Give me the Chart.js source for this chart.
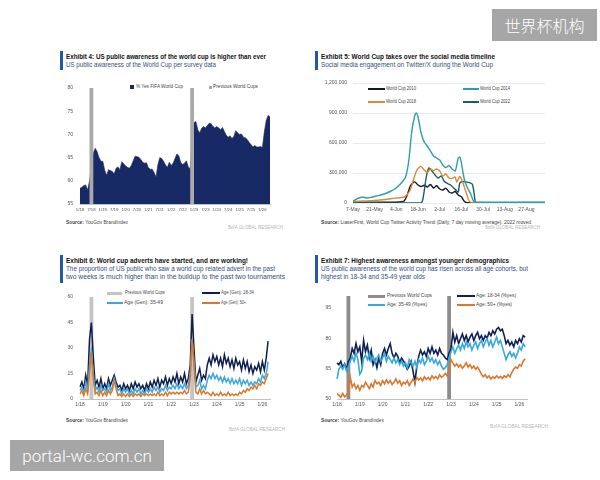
<!DOCTYPE html>
<html>
<head>
<meta charset="utf-8">
<script src="https://cdn.jsdelivr.net/npm/chart.js@4"></script>
<style>
body { margin: 0; width: 600px; height: 480px; background: #fff; position: relative; overflow: hidden; font-family: "Liberation Sans", Arial, sans-serif; }
.abs { position: absolute; white-space: nowrap; transform-origin: left center; line-height: 1; }
.bar { position: absolute; width: 2.5px; background: #2357a8; }
.ttl { font-weight: bold; font-size: 7px; color: #111; }
.sub { font-size: 6.6px; color: #34507a; }
.src { font-size: 5px; color: #444; }
.bofa { font-size: 4.6px; color: #b5b5b5; }
.lg { font-size: 4.8px; color: #444; }
.ln { position: absolute; height: 1.6px; }
.sq { position: absolute; }
canvas { position: absolute; }
.wm { position: absolute; background: #a6a6a6; color: #fff; display: flex; align-items: center; justify-content: center; }
</style>
</head>
<body>

<!-- Exhibit 4 -->
<div class="bar" style="left:60px;top:51px;height:19px"></div>
<div class="abs ttl" style="left:66px;top:53px" data-w="200">Exhibit 4: US public awareness of the world cup is higher than ever</div>
<div class="abs sub" style="left:66px;top:62px" data-w="150">US public awareness of the World Cup per survey data</div>
<div class="sq" style="left:130px;top:85px;width:4px;height:4px;background:#172a66"></div>
<div class="abs lg" style="left:136px;top:84.5px" data-w="47">% Yes FIFA World Cup</div>
<div class="sq" style="left:209px;top:86px;width:2.5px;height:2.5px;background:#a8a8a8"></div>
<div class="abs lg" style="left:213px;top:84.5px" data-w="45">Previous World Cups</div>
<canvas id="c1" width="215" height="137" style="left:58px;top:78px"></canvas>
<div class="abs src" style="left:66px;top:219.5px" data-w="62"><b>Source:</b> YouGov BrandIndex</div>
<div class="abs bofa" style="left:228px;top:226px" data-w="55">BofA GLOBAL RESEARCH</div>

<!-- Exhibit 5 -->
<div class="bar" style="left:315px;top:51px;height:19px"></div>
<div class="abs ttl" style="left:321px;top:53px" data-w="174">Exhibit 5: World Cup takes over the social media timeline</div>
<div class="abs sub" style="left:321px;top:62px" data-w="172">Social media engagement on Twitter/X during the World Cup</div>
<div class="ln" style="left:368px;top:88px;width:17px;background:#0e1a2b"></div>
<div class="abs lg" style="left:386px;top:86.5px" data-w="30">World Cup 2010</div>
<div class="ln" style="left:463px;top:88px;width:16px;background:#2d9db3"></div>
<div class="abs lg" style="left:480px;top:86.5px" data-w="30">World Cup 2014</div>
<div class="ln" style="left:368px;top:101px;width:17px;background:#d88a35"></div>
<div class="abs lg" style="left:386px;top:99.5px" data-w="30">World Cup 2018</div>
<div class="ln" style="left:463px;top:101px;width:16px;background:#1c5c5e"></div>
<div class="abs lg" style="left:480px;top:99.5px" data-w="30">World Cup 2022</div>
<canvas id="c2" width="238" height="140" style="left:312px;top:74px"></canvas>
<div class="abs src" style="left:321px;top:219.5px" data-w="210"><b>Source:</b> LiaserFirst, World Cup Twitter Activity Trend (Daily, 7 day moving average). 2022 moved</div>
<div class="abs bofa" style="left:485px;top:226px" data-w="55">BofA GLOBAL RESEARCH</div>

<!-- Exhibit 6 -->
<div class="bar" style="left:60px;top:255px;height:28px"></div>
<div class="abs ttl" style="left:66px;top:256.5px" data-w="182">Exhibit 6: World cup adverts have started, and are working!</div>
<div class="abs sub" style="left:66px;top:265.5px" data-w="209">The proportion of US public who saw a world cup related advert in the past</div>
<div class="abs sub" style="left:66px;top:273.5px" data-w="219">two weeks is much higher than in the buildup to the past two tournaments</div>
<div class="ln" style="left:107px;top:292px;width:15px;height:2.5px;background:#c4c4c4"></div>
<div class="abs lg" style="left:125px;top:290.5px" data-w="40">Previous World Cups</div>
<div class="ln" style="left:202px;top:292px;width:18px;background:#0f1f4d"></div>
<div class="abs lg" style="left:221px;top:290.5px" data-w="33">Age (Gen): 18-34</div>
<div class="ln" style="left:107px;top:302px;width:16px;background:#3ba7dc"></div>
<div class="abs lg" style="left:124px;top:300.5px" data-w="39">Age (Gen): 35-49</div>
<div class="ln" style="left:202px;top:302px;width:18px;background:#d9782d"></div>
<div class="abs lg" style="left:221px;top:300.5px" data-w="25">Age (Gen): 50+</div>
<canvas id="c3" width="215" height="123" style="left:58px;top:287px"></canvas>
<div class="abs src" style="left:66px;top:417.5px" data-w="62"><b>Source:</b> YouGov BrandIndex</div>
<div class="abs bofa" style="left:229px;top:428px" data-w="56">BofA GLOBAL RESEARCH</div>

<!-- Exhibit 7 -->
<div class="bar" style="left:315px;top:255px;height:28px"></div>
<div class="abs ttl" style="left:321px;top:256.5px" data-w="188">Exhibit 7: Highest awareness amongst younger demographics</div>
<div class="abs sub" style="left:321px;top:265.5px" data-w="207">US public awareness of the world cup has risen across all age cohorts, but</div>
<div class="abs sub" style="left:321px;top:273.5px" data-w="104">highest in 18-34 and 35-49 year olds</div>
<div class="ln" style="left:368px;top:295px;width:17px;height:2.5px;background:#8c8c8c"></div>
<div class="abs lg" style="left:387px;top:293.5px" data-w="45">Previous World Cups</div>
<div class="ln" style="left:457px;top:295px;width:18px;background:#101f55"></div>
<div class="abs lg" style="left:476px;top:293.5px" data-w="40">Age: 18-34 (%yes)</div>
<div class="ln" style="left:368px;top:304px;width:17px;background:#35a8dc"></div>
<div class="abs lg" style="left:387px;top:302.5px" data-w="40">Age: 35-49 (%yes)</div>
<div class="ln" style="left:457px;top:304px;width:18px;background:#d9782d"></div>
<div class="abs lg" style="left:476px;top:302.5px" data-w="36">Age: 50+ (%yes)</div>
<canvas id="c4" width="220" height="123" style="left:312px;top:287px"></canvas>
<div class="abs src" style="left:321px;top:418px" data-w="63"><b>Source:</b> YouGov BrandIndex</div>
<div class="abs bofa" style="left:490px;top:425px" data-w="58">BofA GLOBAL RESEARCH</div>

<!-- watermarks -->
<div class="wm" style="left:492px;top:9px;width:105px;height:32px;font-family:'Noto Sans CJK SC';font-size:16px;font-weight:300">世界杯机构</div>
<div class="wm" style="left:10px;top:440px;width:154px;height:31px;font-family:Roboto,'Liberation Sans';font-size:17px;font-weight:300">portal-wc.com.cn</div>

<script>
// monthly axis, 1/18 .. 5/26
const monthLabels = [];
for (let y = 18; y <= 26; y++) {
    for (let m = 1; m <= 12; m++) monthLabels.push(m + '/' + y);
}
monthLabels.length = 101;

const prevWorldCups = [['6/18', '8/18'], ['11/22', '1/23']];

// Exhibit 4: % yes aware of FIFA World Cup (monthly)
const awareYes = [58.4, 58.6, 59, 59.1, 58, 60, 63, 66, 67, 66.3,
    65, 64.2, 64.2, 62.3, 61.2, 62.4, 62.2, 62, 61.5, 62.7,
    63, 62.4, 64.1, 63.7, 63.2, 62.9, 62.7, 63.3, 64.3, 65.3,
    65.2, 65.1, 64.6, 64, 63.8, 63.9, 62.8, 62.5, 62.5, 61.8,
    60.8, 63.5, 65, 64.8, 64.2, 63.4, 62.9, 64, 63.3, 63.8,
    64.8, 65.8, 65.4, 64, 63.5, 63.8, 64.3, 63, 62.6, 68,
    72.5, 72.8, 71, 70.3, 71.3, 71.7, 71.4, 71.9, 72.4, 72.3,
    71.7, 71.4, 71.7, 71.4, 71, 71.5, 70.6, 69.8, 69.4, 69.7,
    69.1, 69.6, 70.8, 70.3, 70, 70.1, 69.4, 69.3, 68.9, 68.3,
    67.8, 67.3, 67.6, 67.3, 67.3, 67.4, 67.2, 70.5, 73, 74.1,
    73.8];
const awareTicks = [55, 60, 65, 70, 75, 80];

// Exhibit 5: twitter engagement, days from 7-May
const dateTickDays = [0, 14, 28, 42, 56, 70, 84, 98, 112];
const dateTickLabels = ['7-May', '21-May', '4-Jun', '18-Jun', '2-Jul', '16-Jul', '30-Jul', '13-Aug', '27-Aug'];
const engTicks = [0, 300000, 600000, 900000, 1200000];

const days2010 = [0, 10, 20, 30, 33, 35, 37, 39, 40, 42, 44, 46, 48, 50, 52, 54, 56, 58, 60, 62, 64, 66, 68, 70, 72, 74, 124];
const wc2010 = [5000, 8000, 8000, 10000, 20000, 80000, 170000, 205000, 210000, 180000, 165000, 178000, 160000, 185000, 150000, 172000, 140000, 130000, 148000, 110000, 100000, 115000, 80000, 62000, 15000, 3000, 3000];

const days2014 = [0, 3, 6, 9, 12, 15, 18, 21, 24, 27, 30, 32, 34, 36, 38, 40, 41, 42, 44, 46, 48, 50, 52, 54, 56, 58, 60, 62, 64, 66, 67, 68, 69, 70, 72, 74, 76, 78, 80, 124];
const wc2014 = [20000, 45000, 60000, 50000, 58000, 70000, 80000, 95000, 115000, 140000, 180000, 215000, 260000, 420000, 720000, 880000, 900000, 860000, 700000, 610000, 570000, 520000, 470000, 450000, 430000, 380000, 355000, 375000, 340000, 320000, 380000, 450000, 460000, 400000, 230000, 150000, 90000, 15000, 8000, 8000];

const days2018 = [0, 7, 14, 21, 25, 28, 31, 33, 35, 37, 39, 41, 43, 44, 46, 48, 50, 52, 54, 56, 58, 60, 62, 64, 66, 67, 69, 71, 73, 75, 77, 124];
const wc2018 = [15000, 20000, 25000, 35000, 45000, 50000, 55000, 60000, 85000, 130000, 230000, 320000, 360000, 365000, 330000, 305000, 340000, 325000, 340000, 320000, 270000, 290000, 250000, 245000, 260000, 210000, 265000, 200000, 110000, 20000, 5000, 5000];

const days2022 = [0, 44, 45, 46, 47, 48, 49, 50, 51, 53, 55, 57, 59, 61, 63, 65, 67, 68, 69, 71, 73, 75, 77, 78, 79, 80, 124];
const wc2022 = [2000, 2000, 30000, 120000, 230000, 310000, 350000, 340000, 320000, 280000, 250000, 270000, 215000, 195000, 180000, 150000, 120000, 110000, 200000, 215000, 210000, 205000, 190000, 120000, 10000, 2000, 2000];

// Exhibit 6: saw a world cup advert (%)
const advTicks = [0, 15, 30, 45, 60];
const adv1834 = [7, 10, 6, 14, 8, 35, 45, 25, 8, 11,
    7, 12, 6, 9, 6, 12, 8, 11, 14, 10,
    7, 8, 5, 9, 6, 8, 5, 9, 6, 10,
    7, 9, 6, 8, 5, 9, 6, 10, 7, 11,
    8, 12, 7, 11, 9, 13, 8, 12, 9, 13,
    10, 15, 9, 13, 10, 15, 9, 12, 20, 50,
    30, 10, 14, 18, 11, 14, 12, 20, 24, 20,
    26, 22, 25, 20, 24, 19, 26, 21, 24, 19,
    23, 18, 24, 20, 22, 17, 23, 18, 22, 16,
    20, 15, 19, 17, 21, 16, 22, 17, 24, 34];
const adv3549 = [5, 7, 4, 10, 5, 20, 28, 15, 5, 7,
    4, 8, 5, 6, 4, 9, 5, 7, 12, 8,
    5, 6, 3, 6, 4, 6, 3, 5, 3, 6,
    4, 6, 3, 5, 3, 6, 4, 6, 4, 7,
    5, 7, 4, 6, 5, 8, 5, 7, 6, 8,
    6, 9, 6, 8, 6, 9, 6, 8, 15, 35,
    22, 7, 8, 11, 6, 8, 6, 11, 14, 12,
    15, 12, 14, 11, 13, 10, 13, 10, 12, 9,
    12, 9, 11, 9, 12, 8, 11, 9, 11, 8,
    10, 8, 10, 9, 12, 10, 14, 12, 15, 22];
const adv50 = [3, 5, 2, 6, 3, 15, 27, 12, 3, 4,
    2, 5, 2, 4, 2, 5, 3, 5, 11, 6,
    2, 3, 1.5, 3, 1.5, 3, 1.5, 3, 1.5, 3,
    2, 3, 1.5, 3, 2, 3, 2, 3, 2, 3,
    2, 4, 2, 3, 2, 4, 2, 4, 3, 4,
    3, 4, 3, 4, 3, 5, 3, 4, 12, 35,
    20, 4, 3, 6, 3, 5, 3, 4, 3, 2,
    4, 2, 3, 2, 4, 2, 3, 2, 4, 2,
    3, 2, 3, 2, 4, 3, 5, 4, 6, 5,
    7, 6, 8, 6, 9, 8, 10, 9, 12, 15];

// Exhibit 7: awareness by age (%yes)
const ageTicks = [50, 65, 80, 95];
const aw1834 = [67.9, 67, 68.7, 65.5, 67.4, 64.7, 68.7, 70.3, 75, 72.6,
    77.4, 73.4, 75.8, 68.7, 79, 73.4, 76.6, 70.3, 74.2, 67,
    69.5, 65.5, 70.3, 67, 72.6, 75, 71.8, 75, 77.4, 72.6,
    70.3, 72.6, 71.1, 67.9, 70.3, 68.7, 67, 64.7, 66.3, 68.7,
    63.9, 58.3, 66.3, 71.1, 74.2, 71.8, 73.4, 71.1, 75, 72.6,
    75.8, 72.6, 74.2, 71.8, 75, 72.6, 71.8, 70.3, 69.5, 72.6,
    75, 83, 78.2, 81.4, 77.4, 79.8, 82.2, 79, 81.4, 78.2,
    80.6, 82.2, 79, 81.4, 83, 79.8, 81.4, 79, 81.4, 80.1,
    83, 81.4, 83.8, 82.2, 84.6, 85.4, 83.8, 84.6, 81.4, 77.4,
    79, 76.6, 78.2, 75.8, 79, 77.4, 79.8, 78.2, 81.4, 80.6];
const aw3549 = [59.9, 64.7, 66.3, 64.7, 67, 63.9, 66.3, 68.7, 71.1, 68.7,
    72.6, 69.5, 62.3, 63.9, 70.3, 71.8, 69.5, 72.6, 68.7, 71.1,
    67.9, 70.3, 71.8, 68.7, 70.3, 72.6, 68.7, 71.1, 69.5, 67.9,
    70.3, 67.9, 69.5, 67, 68.7, 66.3, 67.9, 65.5, 69.5, 67.9,
    66.3, 68.7, 65.5, 69.5, 67.9, 70.3, 67, 68.7, 71.1, 68.7,
    70.3, 67.9, 69.5, 67, 68.7, 66.3, 64.7, 65.5, 67, 70.3,
    73.4, 75.8, 72.6, 75, 76.6, 74.2, 77.4, 75, 78.2, 75.8,
    77.4, 74.2, 76.6, 78.2, 75, 77.4, 79, 75.8, 78.2, 79.8,
    76.6, 79, 75.8, 78.2, 80.6, 77.4, 79, 75.8, 72.6, 69.5,
    71.8, 73.4, 71.1, 72.6, 70.3, 72.6, 75.8, 74.2, 77.4, 75.8];
const aw50 = [52.7, 51.9, 50.8, 52.7, 51.1, 51.9, 53.5, 60.7, 55.9, 57.5,
    55.1, 56.7, 54.3, 56.7, 55.9, 58.3, 56.7, 55.1, 57.5, 55.9,
    59.1, 57.5, 58.3, 56.7, 59.1, 57.5, 59.4, 57.8, 59.1, 57.2,
    58.3, 59.9, 57.8, 59.1, 56.7, 58.3, 57.5, 59.1, 56.7, 58.3,
    59.9, 58.3, 60.7, 59.4, 60.4, 59.1, 61, 59.7, 60.7, 59.4,
    61.5, 60.2, 61.2, 59.9, 62, 60.7, 61.5, 62.6, 61.5, 64.7,
    69.5, 67.9, 66.3, 67.4, 65.8, 67, 65.2, 66.3, 67.9, 65.8,
    67, 65.2, 66.3, 64.7, 65.8, 64.2, 62.3, 61, 62, 60.4,
    61.5, 59.9, 61, 60.2, 61.5, 60.4, 61.2, 60.2, 61.5, 60.7,
    62, 61, 63.1, 64.7, 65.8, 65.2, 67, 66.3, 68.7, 69.9];

// fit the html text to the widths measured on the picture
document.querySelectorAll('[data-w]').forEach(el => {
    const w = el.getBoundingClientRect().width;
    el.style.transform = 'scaleX(' + (el.dataset.w / w) + ')';
});

// grey bands for previous world cups
function drawBands(chart, opts) {
    if (!opts || !opts.ranges) return;
    const { ctx, chartArea, scales } = chart;
    ctx.save();
    ctx.fillStyle = opts.color;
    opts.ranges.forEach(([a, b]) => {
        const x0 = scales.x.getPixelForValue(monthLabels.indexOf(a));
        const x1 = scales.x.getPixelForValue(monthLabels.indexOf(b));
        ctx.fillRect(x0, chartArea.top, x1 - x0, chartArea.bottom - chartArea.top);
    });
    ctx.restore();
}
Chart.register({
    id: 'wcBands',
    beforeDatasetsDraw(chart, args, opts) { if (!opts.front) drawBands(chart, opts); },
    afterDatasetsDraw(chart, args, opts) { if (opts.front) drawBands(chart, opts); }
});

Chart.defaults.font.family = "'Liberation Sans', Arial, sans-serif";
Chart.defaults.font.size = 5;
Chart.defaults.color = '#555';
Chart.defaults.animation = false;
Chart.defaults.responsive = false;
Chart.defaults.plugins.legend.display = false;
Chart.defaults.plugins.tooltip.enabled = false;

function monthAxis(every, height) {
    return {
        grid: { display: false, drawTicks: false },
        border: { color: '#999', width: 0.6 },
        ticks: {
            autoSkip: false, maxRotation: 0, padding: 3,
            callback: (v, i) => {
                const m = +monthLabels[i].split('/')[0];
                return (m - 1) % every === 0 ? monthLabels[i] : null;
            }
        },
        afterFit: a => { a.height = height; }
    };
}
function valueAxis(lo, hi, ticks, width, pad) {
    return {
        min: lo, max: hi,
        grid: { display: false, drawTicks: false },
        border: { display: false },
        afterBuildTicks: a => { a.ticks = ticks.map(v => ({ value: v })); },
        ticks: { padding: pad },
        afterFit: a => { a.width = width; }
    };
}
function lineSet(data, color, order, width) {
    return { data: data, borderColor: color, borderWidth: width, pointRadius: 0, fill: false, order: order };
}

// Exhibit 4
const x1 = monthAxis(6, 11);
x1.ticks.font = { size: 4.3 };
new Chart(document.getElementById('c1'), {
    type: 'line',
    data: {
        labels: monthLabels,
        datasets: [{ data: awareYes, fill: 'start', backgroundColor: '#172a66', borderColor: '#172a66', borderWidth: 0.6, pointRadius: 0 }]
    },
    options: {
        layout: { padding: { top: 5, right: 3 } },
        plugins: { wcBands: { ranges: prevWorldCups, color: '#a9a9a9', front: true } },
        scales: { x: x1, y: valueAxis(55, 80, awareTicks, 22, 7) }
    }
});

// Exhibit 5
const y2 = valueAxis(0, 1200000, engTicks, 41, 6);
y2.grid = { color: '#dcdcdc', lineWidth: 0.6, drawTicks: false };
y2.ticks.callback = v => v.toLocaleString('en-US');
new Chart(document.getElementById('c2'), {
    type: 'line',
    data: {
        datasets: [
            lineSet(days2014.map((d, i) => ({ x: d, y: wc2014[i] })), '#2d9db3', 1, 1.4),
            lineSet(days2018.map((d, i) => ({ x: d, y: wc2018[i] })), '#d88a35', 2, 1.4),
            lineSet(days2022.map((d, i) => ({ x: d, y: wc2022[i] })), '#1c5c5e', 3, 1.4),
            lineSet(days2010.map((d, i) => ({ x: d, y: wc2010[i] })), '#0e1a2b', 4, 1.4)
        ]
    },
    options: {
        layout: { padding: { top: 5, right: 5 } },
        elements: { line: { tension: 0.25 } },
        scales: {
            x: {
                type: 'linear', min: 0, max: 124,
                grid: { display: false, drawTicks: false },
                border: { display: false },
                afterBuildTicks: a => { a.ticks = dateTickDays.map(v => ({ value: v })); },
                ticks: { padding: 4, maxRotation: 0, autoSkip: false, callback: v => dateTickLabels[dateTickDays.indexOf(v)] },
                afterFit: a => { a.height = 11; }
            },
            y: y2
        }
    }
});

// Exhibit 6
new Chart(document.getElementById('c3'), {
    type: 'line',
    data: {
        labels: monthLabels,
        datasets: [
            lineSet(adv50, '#d9782d', 1, 1.5),
            lineSet(adv3549, '#3ba7dc', 2, 1.5),
            lineSet(adv1834, '#0f1f4d', 3, 1.5)
        ]
    },
    options: {
        layout: { padding: { top: 5, right: 3 } },
        plugins: { wcBands: { ranges: prevWorldCups, color: '#c4c4c4' } },
        scales: { x: monthAxis(12, 11), y: valueAxis(0, 60, advTicks, 22, 7) }
    }
});

// Exhibit 7
new Chart(document.getElementById('c4'), {
    type: 'line',
    data: {
        labels: monthLabels,
        datasets: [
            lineSet(aw50, '#d9782d', 1, 1.6),
            lineSet(aw3549, '#35a8dc', 2, 1.6),
            lineSet(aw1834, '#101f55', 3, 1.6)
        ]
    },
    options: {
        layout: { padding: { top: 5, right: 5 } },
        plugins: { wcBands: { ranges: prevWorldCups, color: '#8c8c8c' } },
        scales: { x: monthAxis(12, 11), y: valueAxis(50, 101, ageTicks, 25, 6) }
    }
});
</script>
</body>
</html>
